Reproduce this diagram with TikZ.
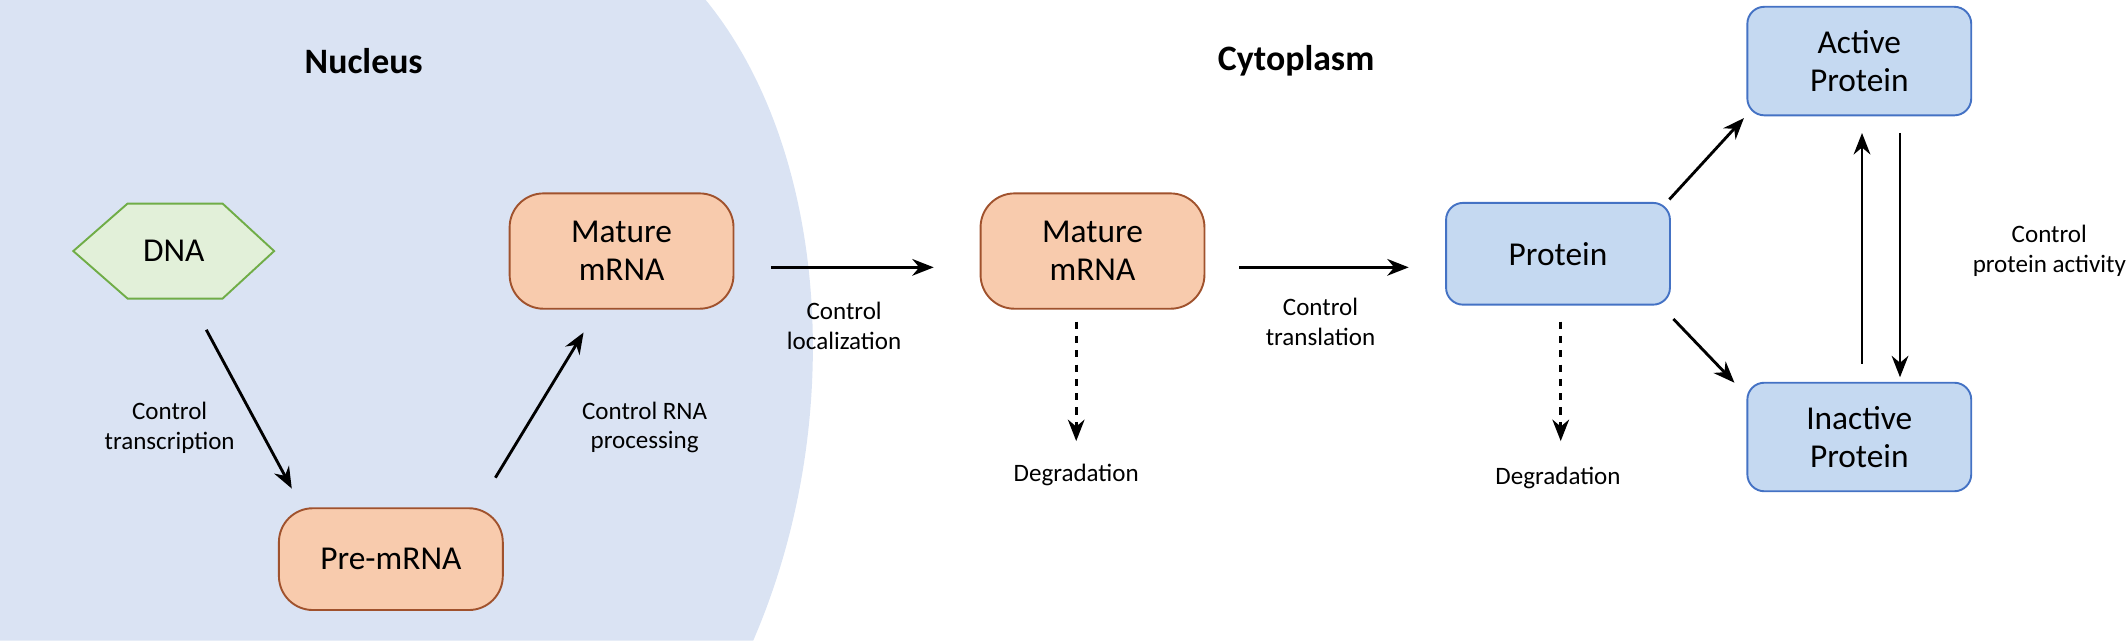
\documentclass[tikz,border=0pt]{standalone}
\usepackage{fontspec}
\setmainfont{Carlito}
\usetikzlibrary{arrows.meta}
\definecolor{nuc}{HTML}{DAE3F3}
\definecolor{orf}{HTML}{F8CBAD}
\definecolor{ord}{HTML}{A0522D}
\definecolor{blf}{HTML}{C5D9F1}
\definecolor{bld}{HTML}{4472C4}
\definecolor{grf}{HTML}{E2F0D9}
\definecolor{grd}{HTML}{70AD47}
\tikzset{
 rna/.style={rounded corners=0.5cm,fill=orf,draw=ord,line width=0.8pt,minimum width=3.3cm,align=center,font=\fontsize{14}{16}\selectfont},
 prot/.style={rounded corners=0.25cm,fill=blf,draw=bld,line width=0.8pt,minimum width=3.3cm,align=center,font=\fontsize{14}{16}\selectfont},
 arr/.style={-{Stealth[length=9pt,width=7pt]},line width=1.2pt},
 lbl/.style={align=center,font=\fontsize{10.5}{12.5}\selectfont},
 ttl/.style={font=\fontsize{15}{18}\selectfont\bfseries}
}
\begin{document}
\begin{tikzpicture}[x=0.02cm,y=-0.02cm]
\useasboundingbox (0,0) rectangle (1568,472);
\fill[nuc] (0,0) -- (520,0) .. controls (610,110) and (625,310) .. (555,472) -- (0,472) -- cycle;
\node[ttl] (tn) at (268,45) {Nucleus};
\node[ttl] (tc) at (955,45) {Cytoplasm};
\fill[grf,draw=grd,line width=0.8pt] (54,185) -- (94,150) -- (164,150) -- (202,185) -- (164,220) -- (94,220) -- cycle;
\node[font=\fontsize{14}{16}\selectfont] (dna) at (128,185) {DNA};
\node[rna,minimum height=1.7cm] (m1) at (458,185) {Mature\\mRNA};
\node[rna,minimum height=1.5cm] (pre) at (288,412) {Pre-mRNA};
\node[rna,minimum height=1.7cm] (m2) at (805,185) {Mature\\mRNA};
\node[prot,minimum height=1.5cm] (p) at (1148,187) {Protein};
\node[prot,minimum height=1.6cm] (ap) at (1370,45) {Active\\Protein};
\node[prot,minimum height=1.6cm] (ip) at (1370,322) {Inactive\\Protein};
\coordinate (d1) at (793,325); \coordinate (d2) at (1150,325);
\draw[arr] (152,243) -- (215,360);
\node[lbl] (l1) at (125,315) {Control\\transcription};
\draw[arr] (365,352) -- (430,245);
\node[lbl] (l2) at (475,315) {Control RNA\\processing};
\draw[arr] (568,197) -- (688,197);
\node[lbl] (l3) at (622,240) {Control\\localization};
\draw[arr,dashed] (793,237) -- (d1);
\node[lbl] (g1) at (793,350) {Degradation};
\draw[arr] (913,197) -- (1038,197);
\node[lbl] (l4) at (973,237) {Control\\translation};
\draw[arr,dashed] (1150,237) -- (d2);
\node[lbl] (g2) at (1148,352) {Degradation};
\draw[arr] (1230,147) -- (1285,87);
\draw[arr] (1233,235) -- (1278,282);
\draw[arr] (1372,268) -- (1372,98);
\draw[arr] (1400,98) -- (1400,278);
\node[lbl] (l5) at (1510,185) {Control\\protein activity};
\end{tikzpicture}
\end{document}
